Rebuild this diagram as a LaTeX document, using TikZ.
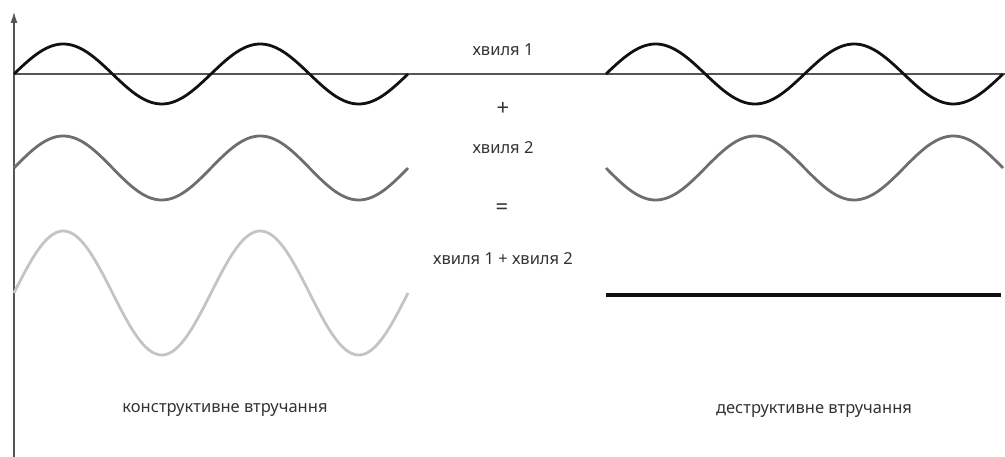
\documentclass[tikz,border=0pt]{standalone}
\usepackage{fontspec}
\setmainfont{Noto Sans}
\usetikzlibrary{arrows.meta}

\definecolor{waveone}{HTML}{111111}
\definecolor{wavetwo}{HTML}{6E6E6E}
\definecolor{wavesum}{HTML}{C4C4C4}
\definecolor{axisgray}{HTML}{555555}

\tikzset{
  axisline/.style={draw=axisgray,line width=1.2pt},
  wavepath/.style={line width=2.8pt,samples=160,smooth},
  lbl/.style={text=black!80,font=\fontsize{16.5}{18}\selectfont,inner sep=0pt},
  sign/.style={lbl,font=\fontsize{22}{22}\selectfont\bfseries}
}

\begin{document}
\begin{tikzpicture}[x=1pt,y=-1pt]
\useasboundingbox (0,0) rectangle (1005,457);
% axes
\draw[axisline,-{Latex[length=11pt,width=7pt]}] (14,457)--(14,12);
\draw[axisline] (14,74)--(1005,74);
% constructive
\draw[wavepath,waveone,domain=0:394] plot ({14+\x},{74-30*sin(\x/197*360)});
\draw[wavepath,wavetwo,domain=0:394] plot ({14+\x},{168-32*sin(\x/197*360)});
\draw[wavepath,wavesum,domain=0:394] plot ({14+\x},{293-62*sin(\x/197*360)});
% destructive
\draw[wavepath,waveone,domain=0:397] plot ({606+\x},{74-30*sin(\x/198.5*360)});
\draw[wavepath,wavetwo,domain=0:397] plot ({606+\x},{168+32*sin(\x/198.5*360)});
\draw[line width=3.2pt,waveone] (606,295)--(1001,295);
% labels
\node[lbl] (w1) at (503,50) {хвиля 1};
\node[sign] (plus) at (503,109) {+};
\node[lbl] (w2) at (503,148) {хвиля 2};
\node[sign] (eq) at (502,209) {=};
\node[lbl] (wsum) at (503,259) {хвиля 1 + хвиля 2};
\node[lbl] (constr) at (225,410) {конструктивне втручання};
\node[lbl] (destr) at (814,411) {деструктивне втручання};
\end{tikzpicture}
\end{document}
